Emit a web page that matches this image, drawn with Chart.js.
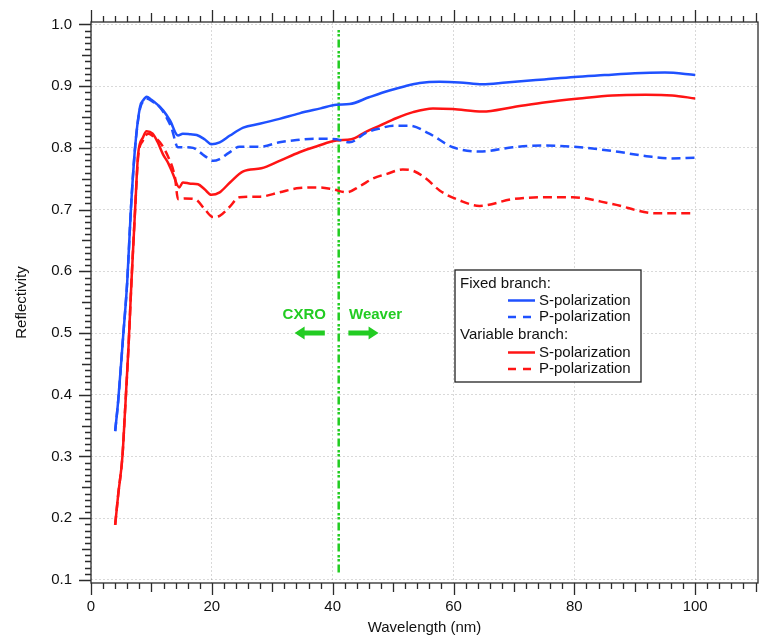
<!DOCTYPE html>
<html>
<head>
<meta charset="utf-8">
<script src="https://cdn.jsdelivr.net/npm/chart.js@4/dist/chart.umd.min.js"></script>
<style>
  html, body { margin: 0; padding: 0; background: #fff; }
  canvas { display: block; }
</style>
</head>
<body>
<canvas id="reflChart" width="759" height="640"></canvas>
<script>
"use strict";

// tick labels
const xTickValues = [0, 20, 40, 60, 80, 100];
const yTickValues = [0.1, 0.2, 0.3, 0.4, 0.5, 0.6, 0.7, 0.8, 0.9, 1.0];

// fixed branch, S-polarization
const fixedSWave = [4.0, 4.5, 5.3, 6.0, 6.6, 7.3, 8.1, 8.7, 9.2, 10.0, 10.9, 12.0, 13.1, 14.4, 15.2, 16.5, 17.5, 18.8, 19.9, 21.3, 23.0, 25.2, 27.9, 31.2, 34.5, 38.0, 40.6, 42.8, 46.0, 49.4, 52.0, 54.4, 57.7, 61.0, 64.8, 68.7, 75.0, 80.0, 85.0, 90.0, 95.0, 100.0];
const fixedSRefl = [0.341, 0.39, 0.492, 0.584, 0.700, 0.801, 0.866, 0.878, 0.883, 0.878, 0.871, 0.860, 0.844, 0.820, 0.823, 0.822, 0.821, 0.814, 0.806, 0.809, 0.820, 0.833, 0.839, 0.847, 0.856, 0.864, 0.870, 0.871, 0.882, 0.893, 0.900, 0.905, 0.907, 0.906, 0.903, 0.906, 0.911, 0.915, 0.918, 0.921, 0.922, 0.918];

// fixed branch, P-polarization
const fixedPWave = [4.0, 4.5, 5.3, 6.0, 6.6, 7.3, 8.1, 8.7, 9.2, 10.2, 11.4, 12.4, 13.3, 14.4, 15.5, 16.9, 18.0, 19.1, 20.2, 21.3, 22.8, 24.6, 28.0, 31.2, 33.4, 37.0, 40.6, 42.8, 45.6, 48.0, 50.0, 52.7, 56.0, 59.9, 64.3, 69.8, 74.8, 79.7, 86.3, 92.4, 96.0, 100.0];
const fixedPRefl = [0.341, 0.39, 0.492, 0.584, 0.700, 0.801, 0.863, 0.876, 0.880, 0.875, 0.866, 0.851, 0.833, 0.801, 0.801, 0.800, 0.793, 0.785, 0.779, 0.782, 0.792, 0.802, 0.802, 0.809, 0.812, 0.815, 0.814, 0.809, 0.825, 0.832, 0.836, 0.836, 0.823, 0.801, 0.794, 0.801, 0.804, 0.802, 0.795, 0.786, 0.783, 0.784];

// variable branch, S-polarization
const varSWave = [4.0, 4.5, 5.2, 5.6, 6.2, 6.7, 7.3, 7.8, 8.6, 9.2, 10.2, 11.0, 11.9, 12.8, 13.6, 14.6, 15.2, 16.5, 17.7, 18.8, 19.9, 21.3, 23.0, 25.2, 28.2, 31.2, 34.5, 37.5, 40.6, 43.1, 45.5, 47.8, 50.5, 53.3, 56.6, 59.9, 64.8, 69.8, 75.3, 80.8, 86.3, 91.8, 96.2, 100.0];
const varSRefl = [0.189, 0.238, 0.300, 0.368, 0.476, 0.584, 0.700, 0.790, 0.817, 0.827, 0.823, 0.810, 0.790, 0.775, 0.757, 0.736, 0.744, 0.742, 0.741, 0.733, 0.724, 0.728, 0.744, 0.762, 0.767, 0.779, 0.793, 0.803, 0.812, 0.814, 0.826, 0.836, 0.848, 0.858, 0.864, 0.863, 0.859, 0.866, 0.874, 0.880, 0.885, 0.886, 0.885, 0.880];

// variable branch, P-polarization
const varPWave = [4.0, 4.5, 5.2, 5.6, 6.2, 6.7, 7.3, 7.8, 8.6, 9.5, 10.4, 11.4, 12.8, 13.9, 14.4, 15.5, 17.2, 18.8, 20.2, 21.3, 22.8, 24.6, 28.0, 31.2, 34.5, 37.9, 40.0, 42.3, 44.5, 46.6, 49.0, 51.6, 53.3, 55.5, 57.7, 61.0, 64.3, 69.8, 74.8, 79.7, 86.3, 93.5, 100.0];
const varPRefl = [0.189, 0.238, 0.300, 0.368, 0.476, 0.584, 0.700, 0.785, 0.812, 0.823, 0.818, 0.809, 0.785, 0.752, 0.717, 0.718, 0.717, 0.701, 0.688, 0.690, 0.703, 0.720, 0.721, 0.728, 0.735, 0.736, 0.733, 0.728, 0.738, 0.750, 0.758, 0.765, 0.763, 0.750, 0.731, 0.715, 0.706, 0.717, 0.720, 0.720, 0.709, 0.694, 0.694];

// CXRO / Weaver boundary
const boundaryWave = [41, 41];
const boundaryRefl = [0.112, 0.994];

const BLUE = "#1f51ff";
const RED = "#ff1414";
const GREEN = "#22cc22";
const FONT = "'Liberation Sans', Arial, sans-serif";

const toPoints = (xs, ys) => xs.map((x, i) => ({ x: x, y: ys[i] }));

function curve(label, xs, ys, color, dashed) {
  return {
    label: label,
    data: toPoints(xs, ys),
    borderColor: color,
    backgroundColor: color,
    borderWidth: 2.5,
    borderDash: dashed ? [9, 5] : [],
    pointRadius: 0,
    cubicInterpolationMode: "monotone",
    fill: false,
  };
}

// axis frame with major / medium / minor ticks (Igor style)
const frameTicks = {
  id: "frameTicks",
  afterDraw(chart) {
    const { ctx, chartArea: a, scales } = chart;
    const x = scales.x, y = scales.y;
    ctx.save();
    ctx.strokeStyle = "#2b2b2b";
    ctx.lineWidth = 1.3;
    ctx.strokeRect(a.left, a.top, a.right - a.left, a.bottom - a.top);
    ctx.beginPath();
    for (let i = 0; i <= 55; i++) {
      const v = i * 2;
      const px = Math.round(x.getPixelForValue(v)) + 0.5;
      const len = v % 20 === 0 ? 12 : v % 10 === 0 ? 9 : 6;
      ctx.moveTo(px, a.bottom);
      ctx.lineTo(px, a.bottom + len);
      ctx.moveTo(px, a.top);
      ctx.lineTo(px, a.top - len);
    }
    for (let i = 10; i <= 100; i++) {
      const py = Math.round(y.getPixelForValue(i / 100)) + 0.5;
      const len = i % 10 === 0 ? 12 : i % 5 === 0 ? 9 : 6;
      ctx.moveTo(a.left - len, py);
      ctx.lineTo(a.left, py);
    }
    ctx.stroke();
    ctx.restore();
  },
};

// CXRO / Weaver labels with arrows, and the grouped legend box
const notes = {
  id: "notes",
  afterDatasetsDraw(chart) {
    const { ctx, scales } = chart;
    const x = scales.x, y = scales.y;
    ctx.save();
    ctx.fillStyle = GREEN;
    ctx.font = "bold 15px " + FONT;
    ctx.textAlign = "center";
    ctx.textBaseline = "middle";
    ctx.fillText("CXRO", x.getPixelForValue(35.3), y.getPixelForValue(0.529));
    ctx.fillText("Weaver", x.getPixelForValue(47.1), y.getPixelForValue(0.529));

    function arrow(fromV, toV, atV) {
      const x0 = x.getPixelForValue(fromV);
      const x1 = x.getPixelForValue(toV);
      const yc = y.getPixelForValue(atV);
      const dir = Math.sign(x1 - x0);
      const head = 10;
      ctx.beginPath();
      ctx.moveTo(x0, yc - 2.5);
      ctx.lineTo(x1 - dir * head, yc - 2.5);
      ctx.lineTo(x1 - dir * head, yc - 6.5);
      ctx.lineTo(x1, yc);
      ctx.lineTo(x1 - dir * head, yc + 6.5);
      ctx.lineTo(x1 - dir * head, yc + 2.5);
      ctx.lineTo(x0, yc + 2.5);
      ctx.closePath();
      ctx.fill();
    }
    arrow(38.7, 33.7, 0.5);
    arrow(42.6, 47.6, 0.5);

    // legend box
    const bx = 455, by = 270, bw = 186, bh = 112;
    ctx.fillStyle = "#fff";
    ctx.fillRect(bx, by, bw, bh);
    ctx.strokeStyle = "#222";
    ctx.lineWidth = 1.3;
    ctx.strokeRect(bx, by, bw, bh);

    ctx.font = "15px " + FONT;
    ctx.textAlign = "left";
    ctx.fillStyle = "#111";
    const rows = [
      { text: "Fixed branch:", y: 283.5 },
      { text: "S-polarization", y: 300.5, color: BLUE, dash: [] },
      { text: "P-polarization", y: 317, color: BLUE, dash: [8, 7] },
      { text: "Variable branch:", y: 335, color: null },
      { text: "S-polarization", y: 352.5, color: RED, dash: [] },
      { text: "P-polarization", y: 369, color: RED, dash: [8, 7] },
    ];
    rows.forEach((r) => {
      if (r.color) {
        ctx.strokeStyle = r.color;
        ctx.lineWidth = 2.5;
        ctx.setLineDash(r.dash);
        ctx.beginPath();
        ctx.moveTo(508, r.y);
        ctx.lineTo(535, r.y);
        ctx.stroke();
        ctx.setLineDash([]);
        ctx.fillStyle = "#111";
        ctx.fillText(r.text, 539, r.y);
      } else {
        ctx.fillStyle = "#111";
        ctx.fillText(r.text, 460, r.y);
      }
    });
    ctx.restore();
  },
};

document.addEventListener("DOMContentLoaded", () => {
  const canvas = document.querySelector("#reflChart");
  new Chart(canvas, {
    type: "line",
    data: {
      datasets: [
        curve("Fixed S-polarization", fixedSWave, fixedSRefl, BLUE, false),
        curve("Fixed P-polarization", fixedPWave, fixedPRefl, BLUE, true),
        curve("Variable S-polarization", varSWave, varSRefl, RED, false),
        curve("Variable P-polarization", varPWave, varPRefl, RED, true),
        {
          label: "boundary",
          data: toPoints(boundaryWave, boundaryRefl),
          borderColor: GREEN,
          borderWidth: 2.5,
          borderDash: [8, 3, 2.5, 1.5, 2.5, 3.5],
          pointRadius: 0,
          fill: false,
        },
      ],
    },
    options: {
      responsive: false,
      animation: false,
      layout: { padding: { top: 22, right: 1, left: 0, bottom: 0 } },
      plugins: {
        legend: { display: false },
        tooltip: { enabled: false },
      },
      scales: {
        x: {
          type: "linear",
          min: 0,
          max: 110.4,
          afterBuildTicks: (scale) => {
            scale.ticks = xTickValues.map((v) => ({ value: v }));
          },
          afterFit: (scale) => {
            scale.height = 57;
          },
          grid: {
            color: "rgba(0,0,0,0.15)",
            lineWidth: 1,
            drawTicks: true,
            tickLength: 15,
            tickColor: "rgba(0,0,0,0)",
          },
          border: { display: false, dash: [2, 2] },
          ticks: {
            padding: 0,
            color: "#111",
            font: { family: FONT, size: 15 },
            maxRotation: 0,
            callback: (v) => String(v),
          },
          title: {
            display: true,
            text: "Wavelength (nm)",
            color: "#111",
            font: { family: FONT, size: 15 },
            padding: { top: 0, bottom: 3 },
          },
        },
        y: {
          type: "linear",
          min: 0.095,
          max: 1.004,
          afterBuildTicks: (scale) => {
            scale.ticks = yTickValues.map((v) => ({ value: v }));
          },
          afterFit: (scale) => {
            scale.width = 91;
          },
          grid: {
            color: "rgba(0,0,0,0.15)",
            lineWidth: 1,
            drawTicks: true,
            tickLength: 19,
            tickColor: "rgba(0,0,0,0)",
          },
          border: { display: false, dash: [2, 2] },
          ticks: {
            padding: 0,
            color: "#111",
            font: { family: FONT, size: 15 },
            callback: (v) => Number(v).toFixed(1),
          },
          title: {
            display: true,
            text: "Reflectivity",
            color: "#111",
            font: { family: FONT, size: 15 },
            padding: { top: 13, bottom: 0 },
          },
        },
      },
    },
    plugins: [frameTicks, notes],
  });
});
</script>
</body>
</html>
